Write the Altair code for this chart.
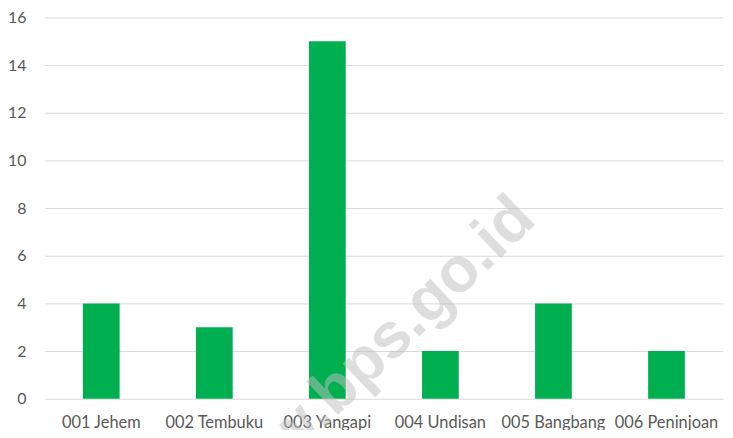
import altair as alt
import pandas as pd

categories = ["001 Jehem", "002 Tembuku", "003 Yangapi", "004 Undisan", "005 Bangbang", "006 Peninjoan"]
values = [4, 3, 15, 2, 4, 2]
y_ticks = [0, 2, 4, 6, 8, 10, 12, 14, 16]
watermark = "www.bps.go.id"

df = pd.DataFrame({"desa": categories, "jumlah": values})
FONT = "Lato"

bars = alt.Chart(df).mark_bar(color="#00B050").encode(
    x=alt.X("desa:N", sort=categories,
            scale=alt.Scale(paddingInner=0.675, paddingOuter=0.3375),
            axis=alt.Axis(title=None, labelAngle=0, ticks=False, domain=False,
                          labelPadding=16, labelFontSize=16.5, labelColor="#595959",
                          labelFont=FONT, grid=False)),
    y=alt.Y("jumlah:Q", scale=alt.Scale(domain=[0, 16], nice=False),
            axis=alt.Axis(title=None, values=y_ticks, ticks=False, domain=False,
                          labelPadding=19, labelFontSize=16, labelColor="#595959",
                          labelFont=FONT, gridColor="#D9D9D9", gridWidth=1)),
)

wm = alt.Chart(pd.DataFrame({"t": [watermark]})).mark_text(
    angle=316, fontSize=64, fontWeight="bold", color="#BFBFBF", opacity=0.5,
    font="'Liberation Sans', Arial, sans-serif", align="center", baseline="middle"
).encode(text="t:N", x=alt.value(322), y=alt.value(348))

chart = (bars + wm).properties(
    width=683, height=384,
    autosize=alt.AutoSizeParams(type="none"),
    padding={"left": 37, "top": 8, "right": 2, "bottom": 30},
    background="white",
).configure_view(stroke=None)

chart.save("out.html", embed_options={"renderer": "svg", "actions": False})
